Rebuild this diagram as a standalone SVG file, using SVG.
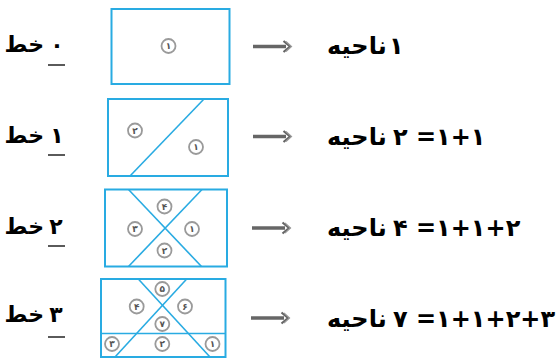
<svg xmlns="http://www.w3.org/2000/svg" width="559" height="359" viewBox="0 0 559 359">
<style>
.box{fill:#fff;stroke:#29abe2;stroke-width:2}
.cut{stroke:#29abe2;stroke-width:1.6;fill:none}
.rc{fill:#fff;stroke:#9a9a9a;stroke-width:1.8}
.rn{font-family:"DejaVu Sans",sans-serif;font-size:9px;fill:#555;text-anchor:middle;font-weight:bold}
.t{font-family:"DejaVu Sans",sans-serif;font-size:22px;font-weight:bold;fill:#000}
.r{font-family:"DejaVu Sans",sans-serif;font-size:24px;font-weight:bold;fill:#000}
.n{letter-spacing:1.5px}
.ul{stroke:#000;stroke-width:1.3}
.shaft{stroke:#666;stroke-width:3.5;fill:none}
.head{stroke:#666;stroke-width:2.2;fill:none;stroke-linejoin:miter}
.head2{stroke:#999;stroke-width:1.2;fill:none}
</style>
<rect width="559" height="359" fill="#fff"/>

<g id="label-0">
<text class="t" x="44" y="52" text-anchor="end">خط</text>
<text class="t" x="57" y="52" text-anchor="middle">۰</text>
<line class="ul" x1="48" y1="65" x2="65" y2="65"/>
</g>
<g id="label-1">
<text class="t" x="44" y="143" text-anchor="end">خط</text>
<text class="t" x="57" y="143" text-anchor="middle">۱</text>
<line class="ul" x1="48" y1="155" x2="65" y2="155"/>
</g>
<g id="label-2">
<text class="t" x="44" y="234" text-anchor="end">خط</text>
<text class="t" x="56" y="234" text-anchor="middle">۲</text>
<line class="ul" x1="48" y1="246" x2="65" y2="246"/>
</g>
<g id="label-3">
<text class="t" x="44" y="322" text-anchor="end">خط</text>
<text class="t" x="56" y="322" text-anchor="middle">۳</text>
<line class="ul" x1="48" y1="337" x2="65" y2="337"/>
</g>

<g id="box-0">
<rect class="box" x="111.5" y="9" width="118" height="75"/>
<circle class="rc" cx="168.5" cy="46" r="7"/><text class="rn" x="168.5" y="49.3">۱</text>
</g>

<g id="box-1">
<rect class="box" x="108" y="99" width="120" height="77"/>
<line class="cut" x1="204" y1="99" x2="130" y2="176"/>
<circle class="rc" cx="135" cy="130.5" r="7"/><text class="rn" x="135" y="133.8">۲</text>
<circle class="rc" cx="196" cy="147" r="7"/><text class="rn" x="196" y="150.3">۱</text>
</g>

<g id="box-2">
<rect class="box" x="105" y="189.5" width="122" height="77"/>
<line class="cut" x1="128.5" y1="189.5" x2="201.5" y2="266.5"/>
<line class="cut" x1="202" y1="189.5" x2="128.5" y2="266.5"/>
<circle class="rc" cx="164.5" cy="206.5" r="7"/><text class="rn" x="164.5" y="209.8">۴</text>
<circle class="rc" cx="135" cy="229" r="7"/><text class="rn" x="135" y="232.3">۳</text>
<circle class="rc" cx="192" cy="229" r="7"/><text class="rn" x="192" y="232.3">۱</text>
<circle class="rc" cx="164.5" cy="250.5" r="7"/><text class="rn" x="164.5" y="253.8">۲</text>
</g>

<g id="box-3">
<rect class="box" x="101" y="279" width="124.5" height="78"/>
<line class="cut" x1="101" y1="333.5" x2="225.5" y2="333.5"/>
<line class="cut" x1="138.3" y1="279" x2="210" y2="357"/>
<line class="cut" x1="186.7" y1="279" x2="115" y2="357"/>
<circle class="rc" cx="162.3" cy="289" r="7"/><text class="rn" x="162.3" y="292.3">۵</text>
<circle class="rc" cx="136.7" cy="306.5" r="7"/><text class="rn" x="136.7" y="309.8">۴</text>
<circle class="rc" cx="185" cy="306.5" r="7"/><text class="rn" x="185" y="309.8">۶</text>
<circle class="rc" cx="162.3" cy="324" r="7"/><text class="rn" x="162.3" y="327.3">۷</text>
<circle class="rc" cx="112" cy="344" r="7"/><text class="rn" x="112" y="347.3">۳</text>
<circle class="rc" cx="162.3" cy="344" r="7"/><text class="rn" x="162.3" y="347.3">۲</text>
<circle class="rc" cx="212.5" cy="344" r="7"/><text class="rn" x="212.5" y="347.3">۱</text>
</g>

<g id="connectors">
<g transform="translate(0,46.5)">
<line class="shaft" x1="253" y1="0" x2="286" y2="0"/>
<path class="head" d="M283.5,-5.5 L290,0 L283.5,5.5"/>
<path class="head2" d="M286,-5 L291.5,0 L286,5"/>
</g>
<g transform="translate(0,136.5)">
<line class="shaft" x1="253" y1="0" x2="286" y2="0"/>
<path class="head" d="M283.5,-5.5 L290,0 L283.5,5.5"/>
<path class="head2" d="M286,-5 L291.5,0 L286,5"/>
</g>
<g transform="translate(0,228)">
<line class="shaft" x1="252" y1="0" x2="285" y2="0"/>
<path class="head" d="M282.5,-5.5 L289,0 L282.5,5.5"/>
<path class="head2" d="M285,-5 L290.5,0 L285,5"/>
</g>
<g transform="translate(0,318)">
<line class="shaft" x1="251" y1="0" x2="284" y2="0"/>
<path class="head" d="M281.5,-5.5 L288,0 L281.5,5.5"/>
<path class="head2" d="M284,-5 L289.5,0 L284,5"/>
</g>
</g>

<g id="result-0">
<text class="r" x="327" y="54">ناحیه</text>
<text class="r" x="389" y="54">۱</text>
</g>
<g id="result-1">
<text class="r" x="327" y="145">ناحیه</text>
<text class="r n" x="393" y="145">۲ =۱+۱</text>
</g>
<g id="result-2">
<text class="r" x="327" y="236">ناحیه</text>
<text class="r n" x="393" y="236">۴ =۱+۱+۲</text>
</g>
<g id="result-3">
<text class="r" x="327" y="327">ناحیه</text>
<text class="r n" x="393" y="327">۷ =۱+۱+۲+۳</text>
</g>
</svg>
